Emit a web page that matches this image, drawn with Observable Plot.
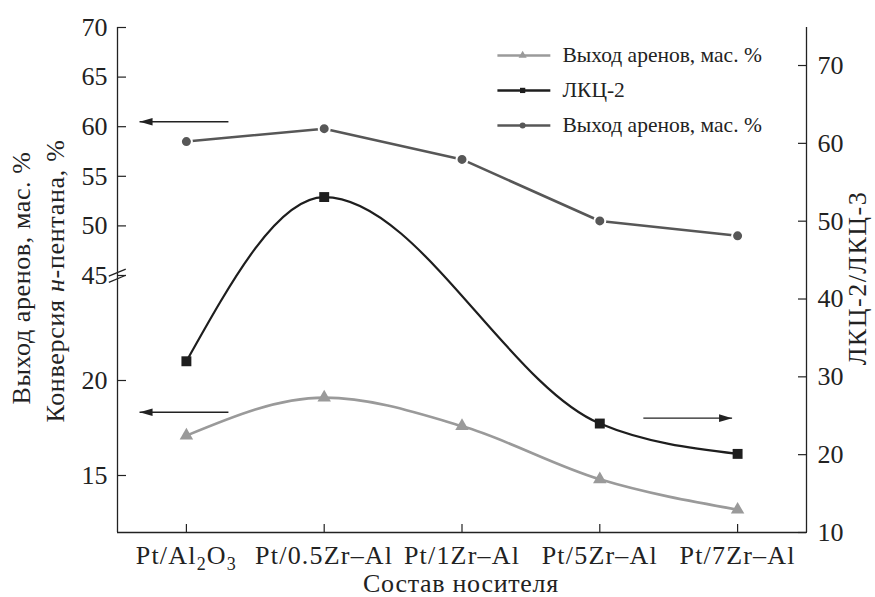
<!DOCTYPE html>
<html><head><meta charset="utf-8">
<script src="https://cdn.jsdelivr.net/npm/d3@7"></script>
<script src="https://cdn.jsdelivr.net/npm/@observablehq/plot@0.6"></script>
<style>
body{margin:0;background:#fff;}
#chart{width:875px;height:597px;}
</style></head><body><div id="chart"></div>
<script>
// ---- data ----
const categories = ["Pt/Al2O3", "Pt/0.5Zr–Al", "Pt/1Zr–Al", "Pt/5Zr–Al", "Pt/7Zr–Al"];
const conversion = [58.5, 59.8, 56.7, 50.5, 49.0];      // circles, left upper axis
const areneYield = [17.1, 19.1, 17.6, 14.8, 13.2];      // triangles, left lower axis
const lkcRatio   = [32.0, 53.1, null, 24.0, 20.1];      // squares, right axis
const leftUpperTicks = [45, 50, 55, 60, 65, 70];
const leftLowerTicks = [15, 20];
const rightTicks = [10, 20, 30, 40, 50, 60, 70];
const legendLabels = ["Выход аренов, мас. %", "ЛКЦ-2", "Выход аренов, мас. %"];
const xTitle = "Состав носителя";
const leftTitle1 = "Выход аренов, мас. %";
const leftTitle2 = ["Конверсия ", "н", "-пентана, %"];
const rightTitle = "ЛКЦ-2/ЛКЦ-3";

// ---- broken left axis: map each segment into right-axis units ----
const upper = v => 10 + (505 - (70 - v) * 9.92) / 7.783;
const lower = v => 10 + (152 - (20 - v) * 19) / 7.783;
const invUpper = u => 70 - (505 - (u - 10) * 7.783) / 9.92;
const invLower = u => 20 - (152 - (u - 10) * 7.783) / 19;
const leftTicksU = [...leftLowerTicks.map(lower), ...leftUpperTicks.map(upper)];
const leftFmt = u => String(Math.round(u > 35 ? invUpper(u) : invLower(u)));

const rows = categories.map((c, i) => ({i, c, conv: conversion[i], yld: areneYield[i], lkc: lkcRatio[i]}));
const lkcRows = rows.filter(d => d.lkc != null);

const cTri = "#9a9a9a", cSq = "#1e1e1e", cCirc = "#575757", ink = "#222";
const FONT = "'Liberation Serif', 'Times New Roman', serif";

const legendRows = [
  {y: 71.29, color: cTri, symbol: "triangle", r: 5, label: legendLabels[0]},
  {y: 66.80, color: cSq, symbol: "square", r: 4.8, label: legendLabels[1]},
  {y: 62.29, color: cCirc, symbol: "circle", r: 5, label: legendLabels[2]}
];

const arrows = [
  {x1: 0.305, y1: upper(60.5), x2: -0.34, y2: upper(60.5), dir: "left"},
  {x1: 0.305, y1: lower(18.33), x2: -0.34, y2: lower(18.33), dir: "left"},
  {x1: 3.316, y1: 24.69, x2: 3.96, y2: 24.69, dir: "right"}
];
const headLeft = {draw(ctx) { ctx.moveTo(0, 0); ctx.lineTo(13, -3.8); ctx.lineTo(13, 3.8); ctx.closePath(); }};
const headRight = {draw(ctx) { ctx.moveTo(0, 0); ctx.lineTo(-13, -3.8); ctx.lineTo(-13, 3.8); ctx.closePath(); }};
const breaks = [
  {x1: -0.563, y1: 42.95, x2: -0.44, y2: 43.85},
  {x1: -0.563, y1: 42.15, x2: -0.44, y2: 43.05}
];

const plot = Plot.plot({
  width: 875, height: 597,
  marginLeft: 117, marginRight: 69, marginTop: 27, marginBottom: 65,
  style: {fontFamily: FONT, fontSize: "26px", color: ink, background: "#fff"},
  x: {type: "linear", domain: [-0.5, 4.5], axis: null},
  y: {type: "linear", domain: [10, 10 + 505 / 7.783], axis: null},
  marks: [
    // axis lines
    Plot.ruleX([-0.5, 4.5], {stroke: ink, strokeWidth: 1.3}),
    Plot.ruleY([10], {stroke: ink, strokeWidth: 1.3}),
    // x axis
    Plot.axisX([0, 1, 2, 3, 4], {anchor: "bottom", tickSize: -8, tickFormat: () => "", strokeWidth: 1.2}),
    Plot.axisX([0, 1, 2, 3, 4], {anchor: "bottom", tickSize: 0, tickPadding: 13, tickFormat: i => categories[i]}),
    // left axis
    Plot.axisY(leftTicksU, {anchor: "left", tickSize: -9, tickFormat: () => "", strokeWidth: 1.2}),
    Plot.axisY(leftTicksU, {anchor: "left", tickSize: 0, tickPadding: 10, tickFormat: leftFmt}),
    // right axis
    Plot.axisY(rightTicks, {anchor: "right", tickSize: -9, tickFormat: () => "", strokeWidth: 1.2}),
    Plot.axisY(rightTicks, {anchor: "right", tickSize: 0, tickPadding: 11, tickFormat: d => String(d)}),
    // axis break marks
    Plot.link(breaks, {x1: "x1", y1: "y1", x2: "x2", y2: "y2", stroke: ink, strokeWidth: 1.3}),
    // series lines
    Plot.line(rows, {x: "i", y: d => lower(d.yld), curve: "monotone-x", stroke: cTri, strokeWidth: 2.6}),
    Plot.line(lkcRows, {x: "i", y: "lkc", curve: "monotone-x", stroke: cSq, strokeWidth: 2.2}),
    Plot.line(rows, {x: "i", y: d => upper(d.conv), stroke: cCirc, strokeWidth: 2.6}),
    // markers
    Plot.dot(rows, {x: "i", y: d => lower(d.yld), symbol: "triangle", r: 5, fill: cTri}),
    Plot.dot(lkcRows, {x: "i", y: "lkc", symbol: "square", r: 5.6, fill: cSq}),
    Plot.dot(rows, {x: "i", y: d => upper(d.conv), r: 5.5, fill: cCirc, stroke: "white", strokeWidth: 2}),
    // arrows
    Plot.link(arrows, {x1: "x1", y1: "y1", x2: "x2", y2: "y2", stroke: ink, strokeWidth: 1.4}),
    Plot.dot(arrows.filter(d => d.dir === "left"), {x: "x2", y: "y2", symbol: headLeft, r: 3, fill: ink, stroke: "none"}),
    Plot.dot(arrows.filter(d => d.dir === "right"), {x: "x2", y: "y2", symbol: headRight, r: 3, fill: ink, stroke: "none"}),
    // legend
    Plot.link(legendRows, {x1: 2.257, x2: 2.641, y1: "y", y2: "y", stroke: "color", strokeWidth: 2.4}),
    Plot.dot(legendRows, {x: 2.44, y: "y", symbol: "symbol", r: "r", fill: "color"}),
    Plot.text(legendRows, {x: 2.729, y: "y", text: "label", textAnchor: "start", fontSize: 21.5, fill: ink})
  ]
});
document.getElementById("chart").append(plot);

const svg = d3.select(plot);
// letter spacing of x tick labels
svg.selectAll('g[aria-label="x-axis tick label"] text').attr("letter-spacing", 1.2);
// subscripts in Pt/Al2O3
svg.selectAll("text").each(function () {
  if (this.textContent === "Pt/Al2O3") {
    const t = d3.select(this);
    t.text("");
    t.append("tspan").text("Pt/Al");
    t.append("tspan").attr("dy", 6).attr("font-size", "18px").text("2");
    t.append("tspan").attr("dy", -6).text("O");
    t.append("tspan").attr("dy", 6).attr("font-size", "18px").text("3");
  }
});
const titles = svg.append("g").attr("font-family", FONT).attr("font-size", 26).attr("fill", ink);
titles.append("text").attr("transform", "translate(30,278) rotate(-90)").attr("text-anchor", "middle")
  .attr("letter-spacing", 0.6).text(leftTitle1);
const t2 = titles.append("text").attr("transform", "translate(64,281) rotate(-90)").attr("text-anchor", "middle")
  .attr("letter-spacing", 0.7);
t2.append("tspan").text(leftTitle2[0]);
t2.append("tspan").attr("font-style", "italic").text(leftTitle2[1]);
t2.append("tspan").text(leftTitle2[2]);
titles.append("text").attr("transform", "translate(866,278) rotate(-90)").attr("text-anchor", "middle")
  .attr("letter-spacing", 1.5).text(rightTitle);
titles.append("text").attr("x", 461).attr("y", 592).attr("text-anchor", "middle")
  .attr("letter-spacing", 0.7).text(xTitle);
</script></body></html>
